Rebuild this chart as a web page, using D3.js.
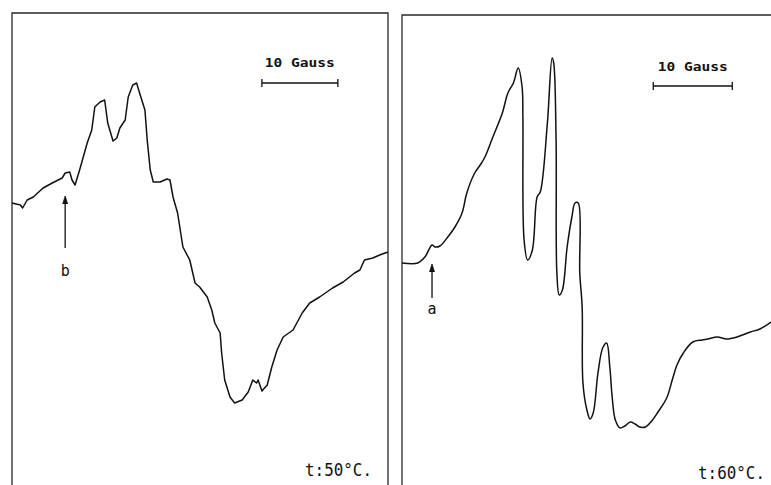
<!DOCTYPE html>
<html>
<head>
<meta charset="utf-8">
<script src="https://cdn.jsdelivr.net/npm/d3@7/dist/d3.min.js"></script>
<style>
  html, body { margin: 0; padding: 0; background: #fff; }
  svg { display: block; }
</style>
</head>
<body>
<div id="chart"></div>
<script>
// EPR spectra, two temperatures. Field in Gauss from left edge of sweep, signal in arbitrary units.

// t = 50 °C
var field50  = [0, 1.1, 1.4, 2.0, 2.8, 4.1, 5.3, 6.6, 7.0, 7.6, 7.9, 8.3, 8.9, 9.9, 10.5, 10.9, 11.6, 12.2,
                12.6, 13.3, 13.8, 14.2, 14.9, 15.3, 15.9, 16.4, 16.8, 17.5, 17.8, 18.2, 18.6, 19.5, 20.4, 20.8,
                21.2, 21.8, 22.5, 23.4, 24.1, 24.7, 25.7, 26.3, 26.7, 27.4, 27.6, 28.0, 28.7, 29.3, 30.3, 31.1,
                31.7, 32.2, 32.4, 32.9, 33.6, 34.2, 34.9, 35.7, 37.0, 38.2, 39.2, 40.5, 42.2, 43.6, 45.1, 45.8,
                46.4, 47.5, 48.4, 49.5];
var signal50 = [9.7, 9.5, 9.2, 10.0, 10.3, 11.2, 11.7, 12.2, 12.7, 12.8, 12.0, 11.5, 13.0, 15.7, 17.0, 19.3, 19.8, 20.0,
                17.7, 15.9, 16.2, 17.2, 18.0, 20.3, 21.5, 21.7, 20.7, 19.0, 16.0, 13.0, 11.8, 11.8, 12.1, 12.0,
                10.3, 8.7, 5.3, 4.0, 1.7, 1.3, 0.3, -1.0, -2.3, -3.3, -5.3, -8.0, -9.7, -10.3, -10.0, -9.2,
                -8.0, -8.3, -8.0, -9.1, -8.5, -6.7, -5.0, -3.7, -3.0, -1.3, -0.3, 0.3, 1.2, 1.8, 2.7, 3.0,
                4.0, 4.2, 4.5, 4.8];

// t = 60 °C
var field60  = [0, 2.0, 2.9, 3.8, 4.2, 4.8, 5.7, 6.7, 7.6, 8.2, 9.2, 9.9, 10.5, 11.5, 12.7, 13.4, 14.1, 14.7,
                15.2, 15.3, 15.45, 15.9, 16.5, 17.1, 17.5, 18.4, 19.0, 19.2, 19.5, 19.6, 19.9, 20.3, 20.9, 21.5,
                21.9, 22.3, 22.5, 22.8, 22.9, 23.4, 23.8, 24.2, 24.8, 25.4, 25.9, 26.3, 26.6, 27.0, 27.6, 28.2,
                28.9, 29.5, 30.1, 30.8, 31.6, 32.4, 33.5, 34.2, 34.8, 35.6, 36.8, 38.0, 38.7, 39.9, 41.1, 42.4,
                44.1, 45.3, 46.7];
var signal60 = [3.7, 3.7, 4.3, 5.5, 5.3, 5.4, 6.2, 7.3, 8.7, 10.7, 12.7, 13.5, 14.3, 16.3, 18.7, 20.7, 21.7, 23.2,
                21.3, 18.3, 6.0, 4.0, 5.0, 10.3, 10.8, 17.7, 24.2, 23.7, 16.0, 2.7, 0.5, 1.0, 5.3, 8.3,
                9.7, 9.7, 2.7, -0.7, -8.3, -11.0, -11.9, -11.3, -7.3, -4.8, -4.3, -6.7, -9.7, -12.0, -12.8, -12.6,
                -12.2, -12.4, -12.7, -12.7, -12.1, -11.2, -9.8, -8.0, -6.5, -5.3, -4.2, -4.0, -3.9, -3.7, -3.9, -3.7,
                -3.2, -2.9, -2.2];

var scaleBarLabel = "10 Gauss";
var scaleBarGauss = 10;
var tempLabels    = ["t:50°C.", "t:60°C."];
var markerLabels  = ["b", "a"];
var markerField   = [7.0, 3.8];   // field position of the arrows
var barStart      = [32.9, 31.8]; // field where the 10 G bar starts

var W = 771, H = 485;
var svg = d3.select("#chart").append("svg").attr("width", W).attr("height", H);

var yScale = d3.scaleLinear().domain([-20, 30]).range([500, 0]);

var panels = [
  { left: 12,  right: 388, top: 13, field: field50, signal: signal50, domain: [0, 49.5],
    curve: d3.curveLinear, barY: 83, textY: 67, arrowTop: 196, arrowBot: 248, lblY: 276, tempX: 372, tempY: 476 },
  { left: 402, right: 771, top: 15, field: field60, signal: signal60, domain: [0, 46.7],
    curve: d3.curveCatmullRom.alpha(0.5), barY: 86, textY: 71, arrowTop: 264, arrowBot: 298, lblY: 314, tempX: 765, tempY: 479 }
];

var ink = "#111";

panels.forEach(function (p, i) {
  var x = d3.scaleLinear().domain(p.domain).range([p.left, p.right]);
  var g = svg.append("g");

  // frame (left, top, right edges; bottom runs off the page)
  var frame = [[p.left, H + 5], [p.left, p.top], [p.right, p.top]];
  if (i === 0) frame.push([p.right, H + 5]);
  g.append("path")
    .attr("d", d3.line()(frame))
    .attr("fill", "none").attr("stroke", "#2a2a2a").attr("stroke-width", 1.3);

  // spectrum
  var pts = p.field.map(function (f, k) { return [f, p.signal[k]]; });
  g.append("path")
    .datum(pts)
    .attr("fill", "none").attr("stroke", ink).attr("stroke-width", 1.5)
    .attr("stroke-linejoin", "round")
    .attr("d", d3.line().curve(p.curve)
      .x(function (d) { return x(d[0]); })
      .y(function (d) { return yScale(d[1]); }));

  // 10 Gauss scale bar
  var x0 = x(barStart[i]), x1 = x(barStart[i] + scaleBarGauss);
  g.append("line").attr("x1", x0).attr("x2", x1).attr("y1", p.barY).attr("y2", p.barY)
    .attr("stroke", ink).attr("stroke-width", 1.3);
  [x0, x1].forEach(function (xx) {
    g.append("line").attr("x1", xx).attr("x2", xx).attr("y1", p.barY - 4).attr("y2", p.barY + 4)
      .attr("stroke", ink).attr("stroke-width", 1.3);
  });
  g.append("text")
    .attr("x", (x0 + x1) / 2).attr("y", p.textY)
    .attr("text-anchor", "middle")
    .style("font-family", "'DejaVu Sans Mono', monospace").style("font-size", "13px")
    .style("font-weight", "bold").attr("fill", ink)
    .attr("textLength", 70).attr("lengthAdjust", "spacingAndGlyphs")
    .text(scaleBarLabel);

  // marker arrow
  var ax = x(markerField[i]);
  g.append("line").attr("x1", ax).attr("x2", ax).attr("y1", p.arrowTop + 3).attr("y2", p.arrowBot)
    .attr("stroke", ink).attr("stroke-width", 1.3);
  g.append("path")
    .attr("d", d3.line()([[ax - 2.5, p.arrowTop + 8], [ax, p.arrowTop], [ax + 2.5, p.arrowTop + 8]]))
    .attr("fill", ink).attr("stroke", ink).attr("stroke-width", 0.8);
  g.append("text")
    .attr("x", ax).attr("y", p.lblY).attr("text-anchor", "middle")
    .style("font-family", "'DejaVu Sans Mono', monospace").style("font-size", "15px")
    .attr("fill", ink).text(markerLabels[i]);

  // temperature label
  g.append("text")
    .attr("x", p.tempX).attr("y", p.tempY).attr("text-anchor", "end")
    .style("font-family", "'DejaVu Sans Mono', monospace").style("font-size", "17px")
    .attr("fill", ink)
    .attr("textLength", 67).attr("lengthAdjust", "spacingAndGlyphs")
    .text(tempLabels[i]);
});
</script>
</body>
</html>
